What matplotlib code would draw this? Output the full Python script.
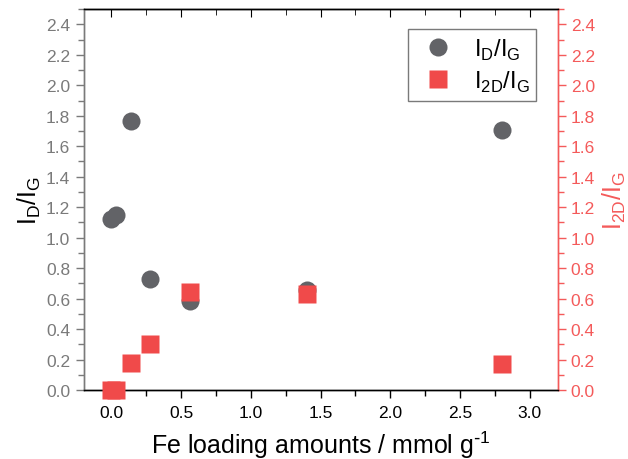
import matplotlib.pyplot as plt
from matplotlib.ticker import MultipleLocator

plt.rcParams['font.family'] = ['Liberation Sans', 'DejaVu Sans']

# --- DATA ---
fe_loading_d = [0.0, 0.035, 0.14, 0.28, 0.56, 1.40, 2.80]
id_ig = [1.12, 1.15, 1.765, 0.73, 0.585, 0.655, 1.705]

fe_loading_2d = [0.0, 0.035, 0.14, 0.28, 0.56, 1.40, 2.80]
i2d_ig = [0.0, 0.0, 0.18, 0.30, 0.64, 0.63, 0.17]

GRAY = '#626367'
RED = '#F04A4A'
AXRED = '#F45A5A'
LGRAY = '#7a7a7a'

fig = plt.figure(figsize=(6.28, 4.60), dpi=100)
ax = fig.add_axes([0.133, 0.15, 0.755, 0.828])
ax2 = ax.twinx()

h1, = ax.plot(fe_loading_d, id_ig, 'o', color=GRAY, ms=13, mec='none', label=r'I$_\mathregular{D}$/I$_\mathregular{G}$', zorder=3)
h2, = ax2.plot(fe_loading_2d, i2d_ig, 's', color=RED, ms=12.5, mec='none', label=r'I$_\mathregular{2D}$/I$_\mathregular{G}$', clip_on=False, zorder=4)

ax.set_xlim(-0.2, 3.2)
ax.set_ylim(0, 2.5)
ax2.set_ylim(0, 2.5)

ax.xaxis.set_major_locator(MultipleLocator(0.5))
ax.xaxis.set_minor_locator(MultipleLocator(0.25))
for a in (ax, ax2):
    a.yaxis.set_major_locator(MultipleLocator(0.2))
    a.yaxis.set_minor_locator(MultipleLocator(0.1))

ax.tick_params(axis='x', which='both', top=False, direction='out', labelsize=12.5, colors='black', pad=5)
ax.tick_params(axis='x', which='major', length=6, width=1)
ax.tick_params(axis='x', which='minor', length=4, width=1)
ax.tick_params(axis='y', which='major', length=6, width=1, colors=LGRAY, labelsize=12.5)
ax.tick_params(axis='y', which='minor', length=4, width=1, colors=LGRAY)
ax2.tick_params(axis='y', which='major', length=6, width=1, colors=AXRED, labelsize=12.5)
ax2.tick_params(axis='y', which='minor', length=4, width=1, colors=AXRED)

# top ticks point inward
sec = ax.secondary_xaxis('top')
sec.xaxis.set_major_locator(MultipleLocator(0.5))
sec.xaxis.set_minor_locator(MultipleLocator(0.25))
sec.tick_params(which='both', direction='in', labeltop=False)
sec.tick_params(which='major', length=6)
sec.tick_params(which='minor', length=4)

ax.spines['left'].set_color(LGRAY)
ax2.spines['left'].set_color(LGRAY)
ax2.spines['right'].set_color(AXRED)
ax.spines['right'].set_color(AXRED)
for a in (ax, ax2):
    for s in a.spines.values():
        s.set_linewidth(1)

ax.set_xlabel(r'Fe loading amounts / mmol g$^{\mathregular{\text{-}1}}$', fontsize=18, labelpad=6)
ax.set_ylabel(r'I$_\mathregular{D}$/I$_\mathregular{G}$', fontsize=18, labelpad=2)
ax2.set_ylabel(r'I$_\mathregular{2D}$/I$_\mathregular{G}$', fontsize=18, color=AXRED, labelpad=4)

leg = ax2.legend(handles=[h1, h2], loc='upper right', bbox_to_anchor=(0.98, 0.978),
                 fontsize=17, fancybox=False, edgecolor=LGRAY, framealpha=1,
                 handletextpad=0.5, borderpad=0.3, labelspacing=0.3, markerscale=1.0)
leg.get_frame().set_linewidth(1)

fig.savefig('out.png', dpi=100)
